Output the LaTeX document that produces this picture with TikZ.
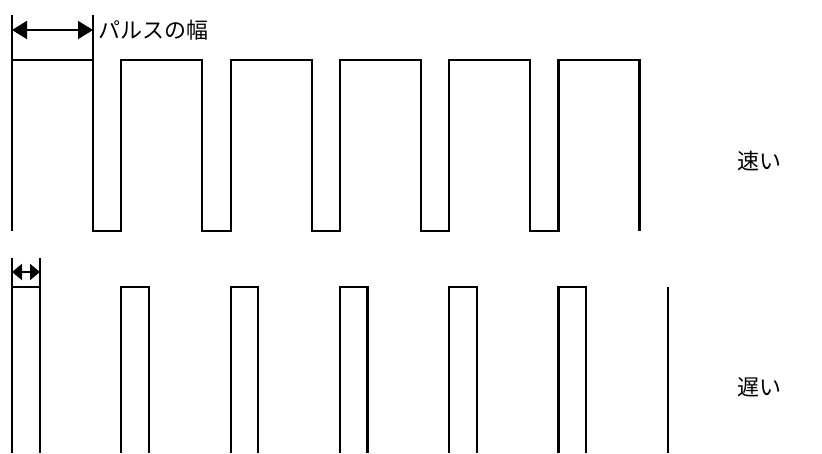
\documentclass[tikz,border=0pt]{standalone}
\usepackage{fontspec}
\newfontfamily\jpfont{Noto Sans CJK JP}
\usetikzlibrary{arrows.meta, positioning}

\tikzset{
  wave/.style={line width=2.2pt, line join=miter},
  widtharrow/.style={line width=2pt, {Triangle[length=15pt,width=18pt]}-{Triangle[length=15pt,width=18pt]}},
  narrowarrow/.style={line width=2pt, {Triangle[length=10pt,width=16pt]}-{Triangle[length=10pt,width=16pt]}},
  lbl/.style={inner sep=0pt, font=\jpfont\fontsize{22}{26}\selectfont}
}

\begin{document}
\begin{tikzpicture}[x=1pt, y=-1pt]
  \useasboundingbox (0,0) rectangle (822,453);

  % fast signal (wide pulses)
  \draw[wave] (12,15) -- (12,231);
  \draw[wave] (12,60) -- (93,60);
  \draw[wave] (93,15) -- (93,231)
    \foreach \k in {1,...,5} {
      -- ({12+109.3*\k},231) -- ({12+109.3*\k},60)
      -- ({93+109.3*\k},60) -- ({93+109.3*\k},231)
    };
  \coordinate (wideL) at (12,30);
  \coordinate (wideR) at (93,30);
  \draw[widtharrow] (wideL) -- (wideR);
  \node[lbl, right=5pt of wideR] (widthlbl) {パルスの幅};
  \node[lbl, anchor=west] (fast) at (737,161) {速い};

  % slow signal (narrow pulses)
  \draw[wave] (12,258) -- (12,453);
  \draw[wave] (40,258) -- (40,453);
  \draw[wave] (12,287) -- (40,287);
  \foreach \k in {1,...,5}
    \draw[wave] ({12+109.3*\k},453) -- ({12+109.3*\k},287)
      -- ({39.5+109.3*\k},287) -- ({39.5+109.3*\k},453);
  \draw[wave] (667.8,287) -- (667.8,453);
  \coordinate (narrowL) at (12,272);
  \coordinate (narrowR) at (40,272);
  \draw[narrowarrow] (narrowL) -- (narrowR);
  \node[lbl, anchor=west] (slow) at (737,387) {遅い};
\end{tikzpicture}
\end{document}
